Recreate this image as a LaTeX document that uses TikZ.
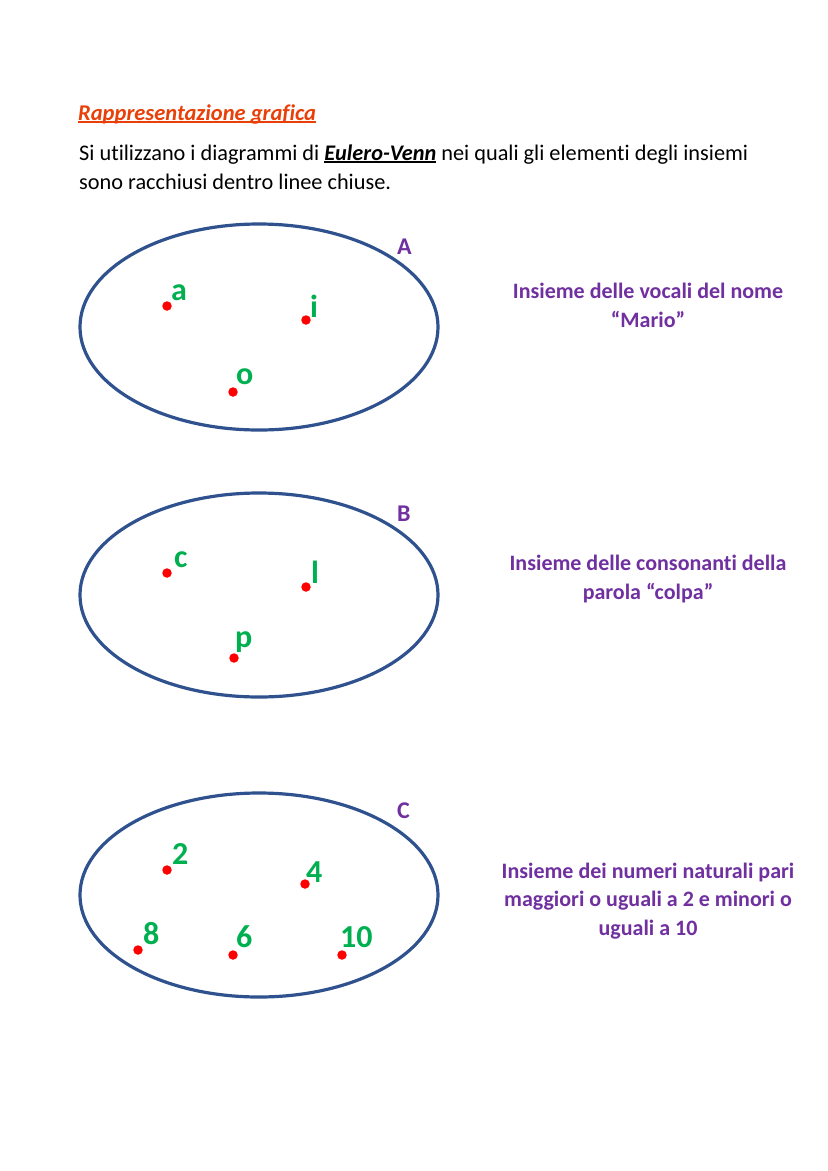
\documentclass[tikz,border=0pt]{standalone}
\usepackage{fontspec}
\setmainfont{Carlito}[Ligatures=NoCommon]
\definecolor{setblue}{RGB}{47,82,143}
\definecolor{elgreen}{RGB}{0,176,80}
\definecolor{setpurple}{RGB}{112,48,160}
\definecolor{titleorange}{RGB}{232,64,8}
\newcommand{\thickul}[1]{\setbox0=\hbox{#1}\rlap{\raisebox{-2.6pt}{\rule{\wd0}{1.4pt}}}\box0\relax}
\begin{document}
\begin{tikzpicture}[x=1pt,y=-1pt,
  setline/.style={draw=setblue,line width=3.2pt},
  elemdot/.style={circle,fill=red,inner sep=0pt,minimum size=9.5pt},
  elemlabel/.style={anchor=base west,inner sep=0pt,text=elgreen,font=\fontsize{32}{36}\selectfont\bfseries},
  setname/.style={anchor=base west,inner sep=0pt,text=setpurple,font=\fontsize{24}{28}\selectfont\bfseries},
  desc/.style={anchor=base,inner sep=0pt,align=center,text=setpurple,font=\fontsize{22}{28.5}\selectfont\bfseries},
  bodytext/.style={anchor=base west,inner sep=0pt,align=left,font=\fontsize{22.3}{29}\selectfont}]
\path[use as bounding box,fill=white] (0,0) rectangle (828,1171);

% heading
\node[anchor=base west,inner sep=0pt,text=titleorange,font=\fontsize{22.5}{26}\selectfont\bfseries\itshape] (title) at (78,120) {\thickul{Rappresentazione grafica}};
\node[bodytext] (intro) at (79,189) {Si utilizzano i diagrammi di \thickul{\textbf{\textit{Eulero-Venn}}} nei quali gli elementi degli insiemi\\sono racchiusi dentro linee chiuse.};

% set A
\draw[setline] (259,327) ellipse [x radius=179pt, y radius=103pt];
\node[setname] (nA) at (397,254) {A};
\node[elemdot] (da) at (167,306) {};
\node[elemdot] (di) at (306,320) {};
\node[elemdot] (do) at (233,392) {};
\node[elemlabel] (la) at (171,300) {a};
\node[elemlabel] (li) at (310,317) {i};
\node[elemlabel] (lo) at (236,384) {o};
\node[desc] (tA) at (648,327) {Insieme delle vocali del nome\\“Mario”};

% set B
\draw[setline] (259,595) ellipse [x radius=179pt, y radius=102pt];
\node[setname] (nB) at (397,521) {B};
\node[elemdot] (dc) at (167,573) {};
\node[elemdot] (dl) at (306,587) {};
\node[elemdot] (dp) at (234,658) {};
\node[elemlabel] (lc) at (174,567) {c};
\node[elemlabel] (ll) at (311,583) {l};
\node[elemlabel] (lp) at (235,647) {p};
\node[desc] (tB) at (648,599) {Insieme delle consonanti della\\parola “colpa”};

% set C
\draw[setline] (259,895) ellipse [x radius=179pt, y radius=102pt];
\node[setname] (nC) at (397,818) {C};
\node[elemdot] (d2) at (167,870) {};
\node[elemdot] (d4) at (305,884) {};
\node[elemdot] (d8) at (138,950) {};
\node[elemdot] (d6) at (233,955) {};
\node[elemdot] (d10) at (342,955) {};
\node[elemlabel] (l2) at (172,864) {2};
\node[elemlabel] (l4) at (306,882) {4};
\node[elemlabel] (l8) at (143,944) {8};
\node[elemlabel] (l6) at (236,947) {6};
\node[elemlabel] (l10) at (340,947) {10};
\node[desc] (tC) at (648,935) {Insieme dei numeri naturali pari\\maggiori o uguali a 2 e minori o\\uguali a 10};
\end{tikzpicture}
\end{document}
